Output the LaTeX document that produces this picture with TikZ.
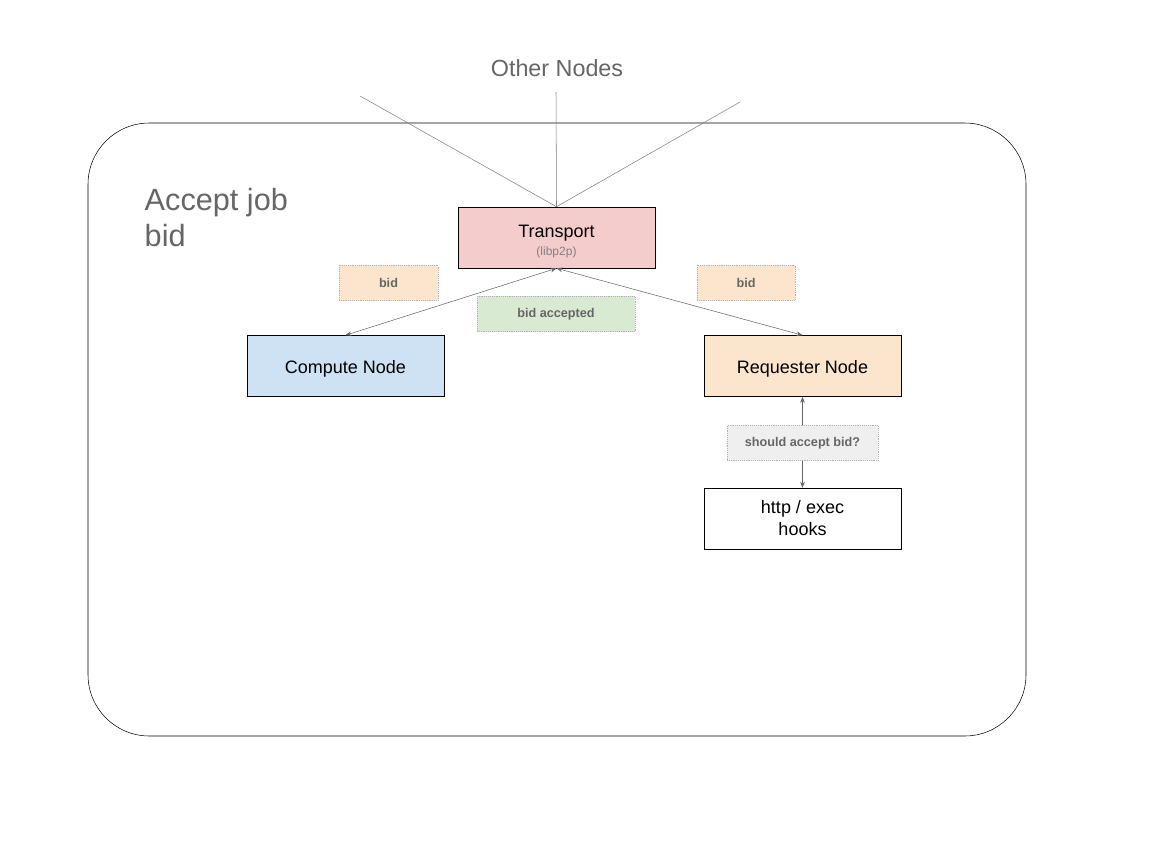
\documentclass[tikz,border=0pt]{standalone}
\usepackage{fontspec}
\setmainfont{Liberation Sans}
\usetikzlibrary{arrows.meta}
\definecolor{transportred}{HTML}{F4CCCC}
\definecolor{computeblue}{HTML}{CFE2F3}
\definecolor{requestorange}{HTML}{FCE5CD}
\definecolor{acceptgreen}{HTML}{D9EAD3}
\definecolor{askgray}{HTML}{EFEFEF}
\definecolor{textgray}{HTML}{666666}

\begin{document}
\begin{tikzpicture}[x=0.75pt, y=-0.75pt,
    box/.style={draw=black, minimum width=147.75pt, minimum height=45.75pt,
                inner sep=0pt, align=center, font=\fontsize{13.5}{16.5}\selectfont,
                execute at begin node={\rule{0pt}{14pt}}},
    tag/.style={draw=gray!60, densely dotted, inner sep=0pt, minimum height=26.5pt,
                text=textgray, font=\bfseries\fontsize{9.5}{11}\selectfont},
    link/.style={draw=textgray, {Stealth[length=4.5pt,width=3.5pt]}-{Stealth[length=4.5pt,width=3.5pt]}},
    wire/.style={draw=gray}]
    \useasboundingbox (0,0) rectangle (1152,864);

    % frame round the whole step
    \draw[rounded corners=46pt] (88,123) rectangle (1026,736);
    \node[anchor=north west, align=left, text=textgray, font=\fontsize{23}{27}\selectfont]
        (title) at (140,184) {Accept job\\bid};

    % the peers
    \node[text=textgray, font=\fontsize{17.5}{20}\selectfont] (others) at (557,68) {Other Nodes};
    \node[box, fill=transportred] (transport) at (556.5,237.5)
        {\rule{0pt}{16pt}Transport\\[-3pt]{\color{gray}\fontsize{9}{10}\selectfont (libp2p)}};
    \node[box, fill=computeblue] (compute) at (345.5,366) {Compute Node};
    \node[box, fill=requestorange] (requester) at (802.5,366) {Requester Node};
    \node[box, fill=white] (hooks) at (802.5,518.5) {http / exec\\hooks};

    % lines out to the other nodes
    \foreach \name/\x/\y in {peerA/360/96, peerB/556/92, peerC/740/102} {
        \coordinate (\name) at (\x,\y);
        \draw[wire] (transport.north) -- (\name);
    }

    % messages
    \draw[link] (transport.south) -- (compute.north);
    \draw[link] (transport.south) -- (requester.north);
    \draw[link] (requester.south) -- (hooks.north);

    \node[tag, fill=requestorange, minimum width=74.25pt] (bidleft) at (388.5,283) {bid};
    \node[tag, fill=requestorange, minimum width=73.5pt] (bidright) at (746,283) {bid};
    \node[tag, fill=acceptgreen, minimum width=118.5pt] (accepted) at (556,314) {bid accepted};
    \node[tag, fill=askgray, minimum width=113.25pt] (ask) at (802.5,443) {should accept bid?};
\end{tikzpicture}
\end{document}
